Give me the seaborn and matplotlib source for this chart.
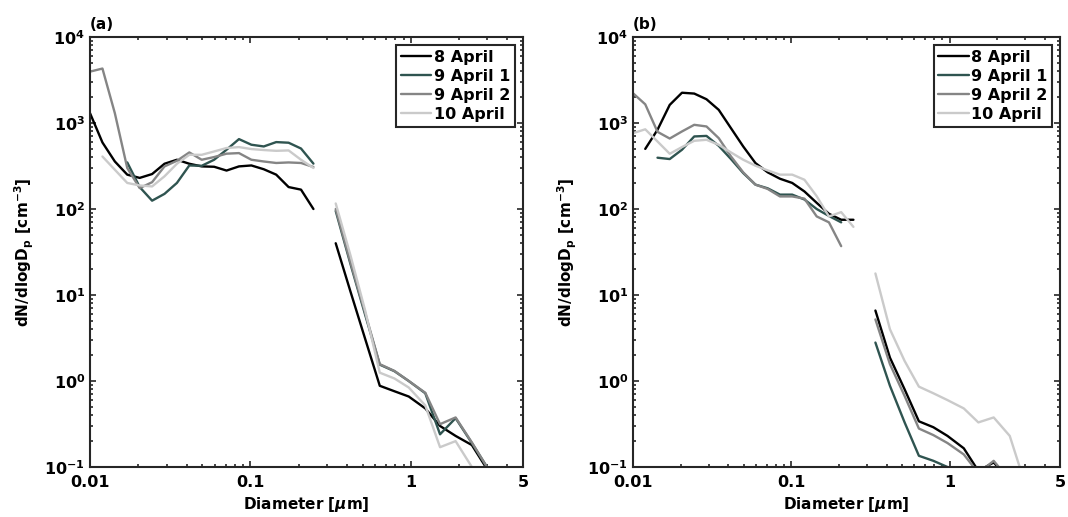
"""Size distributions, two panels (SMPS + APS), log-log."""
import matplotlib
matplotlib.use("Agg")
import matplotlib.pyplot as plt
import matplotlib.ticker as mticker
import numpy as np
import pandas as pd
import seaborn as sns

nan = np.nan

# diameters [um] of the two instruments
SMPS_D = [0.0100, 0.01195, 0.01428, 0.01706, 0.02039, 0.02437, 0.02912, 0.03480,
          0.04158, 0.04969, 0.05938, 0.07096, 0.08480, 0.10133, 0.12109, 0.14470,
          0.17292, 0.20664, 0.24693]
APS_D = [0.34, 0.42, 0.52, 0.64, 0.79, 0.97, 1.23, 1.52, 1.9, 2.4, 2.98, 3.7]

SERIES = ["8 April", "9 April 1", "9 April 2", "10 April"]
COLORS = ["#000000", "#2f5450", "#858585", "#cacaca"]

# panel (a)
a_smps_8 = [1300, 594, 357, 251, 230, 255, 336, 374, 336, 313, 310, 280, 313, 321, 290, 251, 180, 168, 100]
a_smps_9a = [nan, nan, nan, 348, 180, 125, 150, 201, 321, 318, 374, 489, 650, 559, 534, 600, 590, 505, 337]
a_smps_9b = [3960, 4300, 1300, 300, 175, 205, 313, 364, 455, 374, 402, 440, 447, 374, 357, 343, 348, 343, 308]
a_smps_10 = [nan, 408, 286, 201, 188, 183, 240, 336, 427, 427, 467, 512, 525, 498, 485, 475, 480, 374, 300]
a_aps_8 = [40, 11.0, 3.05, 0.88, 0.76, 0.66, 0.48, 0.30, 0.23, 0.18, 0.095, 0.04]
a_aps_9a = [95, 23, 5.8, 1.55, 1.30, 1.0, 0.72, 0.24, 0.37, 0.19, 0.10, 0.045]
a_aps_9b = [100, 24, 6.1, 1.57, 1.31, 1.0, 0.73, 0.315, 0.377, 0.193, 0.10, 0.045]
a_aps_10 = [116, 29, 6.5, 1.25, 1.07, 0.84, 0.52, 0.17, 0.20, 0.10, 0.04, nan]

# panel (b)
b_smps_8 = [nan, 500, 834, 1625, 2250, 2200, 1890, 1423, 871, 534, 342, 267, 225, 201, 160, 118, 88, 75, 75]
b_smps_9a = [nan, nan, 395, 381, 489, 698, 708, 543, 381, 262, 192, 174, 147, 147, 129, 100, 83, 70, nan]
b_smps_9b = [2220, 1650, 790, 660, 798, 953, 912, 667, 409, 267, 192, 171, 140, 140, 132, 82, 70, 37, nan]
b_smps_10 = [762, 845, 610, 439, 525, 621, 638, 558, 455, 374, 319, 281, 251, 251, 219, 141, 82, 92, 62]
b_aps_8 = [6.6, 1.87, 0.80, 0.34, 0.29, 0.23, 0.165, 0.09, 0.113, 0.07, nan, nan]
b_aps_9a = [2.8, 0.88, 0.33, 0.135, 0.118, 0.10, 0.07, nan, nan, nan, nan, nan]
b_aps_9b = [5.2, 1.57, 0.67, 0.28, 0.235, 0.19, 0.14, 0.085, 0.118, 0.07, nan, nan]
b_aps_10 = [17.8, 4.0, 1.71, 0.86, 0.72, 0.60, 0.48, 0.33, 0.377, 0.23, 0.066, nan]

PANELS = [
    ("(a)", [a_smps_8, a_smps_9a, a_smps_9b, a_smps_10], [a_aps_8, a_aps_9a, a_aps_9b, a_aps_10]),
    ("(b)", [b_smps_8, b_smps_9a, b_smps_9b, b_smps_10], [b_aps_8, b_aps_9a, b_aps_9b, b_aps_10]),
]


def to_long(smps, aps):
    rows = []
    for name, s_vals, a_vals in zip(SERIES, smps, aps):
        for d, v in zip(SMPS_D, s_vals):
            rows.append((name, "smps", d, v))
        for d, v in zip(APS_D, a_vals):
            rows.append((name, "aps", d, v))
    df = pd.DataFrame(rows, columns=["series", "inst", "dp", "n"])
    return df.dropna()


sns.set_style("ticks")
plt.rcParams.update({
    "font.family": ["DejaVu Sans"],
    "font.weight": "bold",
    "axes.labelweight": "bold",
    "font.size": 11,
    "text.color": "black",
    "axes.labelcolor": "black",
    "axes.edgecolor": "#262626",
    "axes.linewidth": 1.5,
    "xtick.color": "#262626",
    "ytick.color": "#262626",
    "xtick.labelcolor": "black",
    "ytick.labelcolor": "black",
})

fig = plt.figure(figsize=(10.68, 5.17), dpi=100)
positions = [[0.0843, 0.0967, 0.4054, 0.8317], [0.5927, 0.0967, 0.4000, 0.8317]]
palette = dict(zip(SERIES, COLORS))

for pos, (tag, smps, aps) in zip(positions, PANELS):
    ax = fig.add_axes(pos)
    ax.set_xscale("log")
    ax.set_yscale("log")
    df = to_long(smps, aps)
    sns.lineplot(data=df, x="dp", y="n", hue="series", hue_order=SERIES,
                 palette=palette, units="inst", estimator=None, sort=False,
                 linewidth=1.7, ax=ax)
    ax.set_xlim(0.01, 5)
    ax.set_ylim(0.1, 1e4)
    ax.xaxis.set_major_locator(mticker.FixedLocator([0.01, 0.1, 1, 5]))
    ax.xaxis.set_major_formatter(mticker.FixedFormatter(["0.01", "0.1", "1", "5"]))
    ax.xaxis.set_minor_locator(mticker.LogLocator(base=10, subs=np.arange(2, 10)))
    ax.xaxis.set_minor_formatter(mticker.NullFormatter())
    ax.yaxis.set_major_locator(mticker.LogLocator(base=10))
    ax.yaxis.set_major_formatter(mticker.FuncFormatter(
        lambda v, _: r"$\mathbf{10^{%d}}$" % round(np.log10(v))))
    ax.yaxis.set_minor_locator(mticker.LogLocator(base=10, subs=np.arange(2, 10)))
    ax.yaxis.set_minor_formatter(mticker.NullFormatter())
    ax.tick_params(which="both", direction="in", top=True, right=True, width=1.2)
    ax.tick_params(which="major", length=4.5, labelsize=11.5)
    ax.tick_params(axis="x", which="major", pad=6)
    ax.tick_params(which="minor", length=2.2)
    ax.set_xlabel(r"Diameter [$\mu$m]", fontsize=11, labelpad=3)
    ax.set_ylabel(r"dN/dlogD$_\mathbf{p}$ [cm$^\mathbf{-3}$]", fontsize=11, labelpad=6)
    ax.text(0.0, 1.012, tag, transform=ax.transAxes, ha="left", va="bottom",
            fontsize=11, fontweight="bold")
    sns.move_legend(ax, "upper right", title=None, frameon=True, fancybox=False,
                    edgecolor="#262626", framealpha=1, fontsize=11.5,
                    handlelength=1.9, handletextpad=0.15, labelspacing=0.25,
                    borderpad=0.3, borderaxespad=0.5)
    leg = ax.get_legend()
    leg.get_frame().set_linewidth(1.5)
    for t in leg.get_texts():
        t.set_color("black")

fig.savefig("out.png", dpi=100, facecolor="white")
